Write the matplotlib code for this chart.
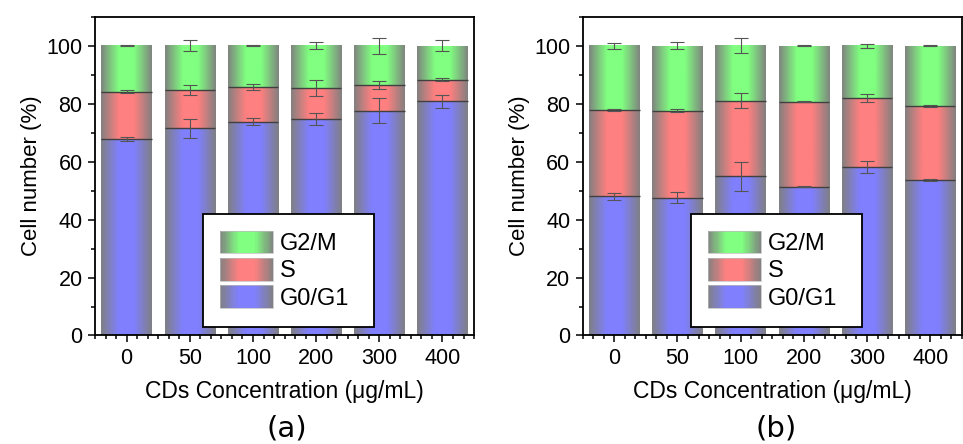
import matplotlib.pyplot as plt
import matplotlib.colors as mcolors
import numpy as np
from matplotlib.legend_handler import HandlerBase
from matplotlib.patches import Rectangle
from matplotlib.ticker import FixedLocator, MultipleLocator

plt.rcParams["font.family"] = ["Liberation Sans", "DejaVu Sans"]

conc = ["0", "50", "100", "200", "300", "400"]
phases = ["G0/G1", "S", "G2/M"]

# panel (a)
g0_a = [67.7, 71.5, 73.8, 74.7, 77.6, 80.8]
s_a = [16.4, 13.3, 12.0, 10.8, 8.9, 7.5]
g2m_a = [15.9, 15.2, 14.2, 14.5, 13.5, 11.7]
g0_a_err = [0.7, 3.2, 1.1, 2.2, 4.3, 2.3]
s_a_err = [0.5, 1.7, 1.1, 2.8, 1.4, 0.6]
g2m_a_err = [0.2, 1.8, 0.1, 1.2, 2.7, 1.9]

# panel (b)
g0_b = [48.0, 47.5, 54.9, 51.3, 58.1, 53.7]
s_b = [29.9, 30.1, 26.1, 29.4, 23.8, 25.6]
g2m_b = [22.1, 22.4, 19.0, 19.3, 18.1, 20.7]
g0_b_err = [1.3, 1.9, 4.9, 0.2, 2.0, 0.3]
s_b_err = [0.3, 0.6, 2.5, 0.2, 1.5, 0.3]
g2m_b_err = [1.0, 1.3, 2.5, 0.1, 0.7, 0.1]

colors = {"G0/G1": "#8080ff", "S": "#ff8080", "G2/M": "#80ff80"}
GRAY = np.array([0.5, 0.5, 0.5])


def shade(color, n=64):
    c = np.array(mcolors.to_rgb(color))
    t = np.linspace(0, 1, n)
    w = np.clip(np.minimum(t, 1 - t) / 0.35, 0, 1)
    w = 0.05 + 0.95 * w
    return GRAY * (1 - w[:, None]) + c * w[:, None]


class GradientHandler(HandlerBase):
    def create_artists(self, legend, orig_handle, xdescent, ydescent,
                       width, height, fontsize, trans):
        cols = shade(orig_handle.get_facecolor(), 48)
        n = len(cols)
        arts = []
        for i, c in enumerate(cols):
            arts.append(Rectangle((-xdescent + width * i / n, -ydescent),
                                  width / n * 1.1, height, facecolor=c,
                                  edgecolor="none", transform=trans))
        arts.append(Rectangle((-xdescent, -ydescent), width, height,
                              facecolor="none", edgecolor="#bbbbbb",
                              linewidth=0.5, transform=trans))
        return arts


def panel(ax, segs, errs):
    x = np.arange(len(conc))
    bottom = np.zeros(len(conc))
    proxies = []
    for k, (name, vals, err) in enumerate(zip(phases, segs, errs)):
        bars = ax.bar(x, vals, 0.8, bottom=bottom, color=colors[name],
                      linewidth=0, zorder=1)
        img = shade(colors[name])[None, :, :]
        for b in bars:
            x0, y0 = b.get_x(), b.get_y()
            ax.imshow(img, extent=(x0, x0 + b.get_width(), y0, y0 + b.get_height()),
                      aspect="auto", interpolation="bilinear", zorder=1.5)
            if k < len(phases) - 1:
                ax.hlines(y0 + b.get_height(), x0, x0 + b.get_width(),
                          color="#404040", linewidth=1.0, zorder=2)
        bottom = bottom + np.array(vals)
        ax.errorbar(x, bottom, yerr=err, fmt="none", ecolor="#555555",
                    elinewidth=0.8, capsize=5, capthick=0.8, zorder=3)
        proxies.append(Rectangle((0, 0), 1, 1, facecolor=colors[name]))

    ax.set_xlim(-0.5, 5.5)
    ax.set_ylim(0, 110)
    ax.set_xticks(x)
    ax.set_xticklabels(conc)
    ax.xaxis.set_minor_locator(FixedLocator(np.arange(-3, 34) / 6))
    ax.yaxis.set_minor_locator(MultipleLocator(10))
    ax.set_yticks([0, 20, 40, 60, 80, 100])
    ax.tick_params(which="both", direction="out", width=1.1, labelsize=15.5,
                   top=False, right=False, pad=4)
    ax.tick_params(which="major", length=5)
    ax.tick_params(which="minor", length=3)
    for sp in ax.spines.values():
        sp.set_linewidth(1.3)
    ax.set_xlabel("CDs Concentration (\u03bcg/mL)", fontsize=16.5, labelpad=8)
    ax.set_ylabel("Cell number (%)", fontsize=16, labelpad=3)

    handles = proxies[::-1]
    leg = ax.legend(handles, phases[::-1], loc="lower left",
                    bbox_to_anchor=(0.285, 0.028, 0.451, 0.357),
                    mode="expand",
                    handler_map={Rectangle: GradientHandler()},
                    fontsize=17, handlelength=2.25, handleheight=1.1,
                    labelspacing=0.12, handletextpad=0.3, borderpad=0.72,
                    fancybox=False, framealpha=1, edgecolor="black",
                    borderaxespad=0)
    leg.get_frame().set_linewidth(1.3)
    leg.set_zorder(5)


fig = plt.figure(figsize=(9.63, 4.44), dpi=100)
ax1 = fig.add_axes((0.0987, 0.2444, 0.3936, 0.718))
ax2 = fig.add_axes((0.6051, 0.2444, 0.3936, 0.718))

panel(ax1, [g0_a, s_a, g2m_a], [g0_a_err, s_a_err, g2m_a_err])
panel(ax2, [g0_b, s_b, g2m_b], [g0_b_err, s_b_err, g2m_b_err])

fig.text(0.298, 0.036, "(a)", ha="center", va="center", fontsize=21,
         family="DejaVu Sans")
fig.text(0.806, 0.036, "(b)", ha="center", va="center", fontsize=21,
         family="DejaVu Sans")

fig.savefig("out.png", dpi=100)
